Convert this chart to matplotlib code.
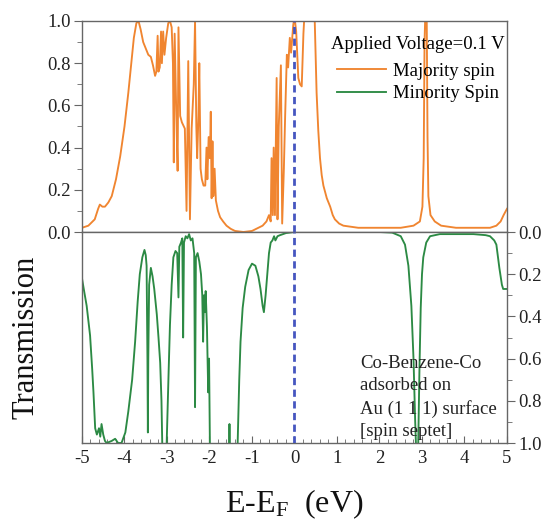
import matplotlib
matplotlib.use('Agg')
import matplotlib.pyplot as plt
from matplotlib.ticker import MultipleLocator, FixedLocator

plt.rcParams['font.family'] = ['Liberation Serif', 'DejaVu Serif']
plt.rcParams['mathtext.fontset'] = 'custom'
plt.rcParams['mathtext.rm'] = 'Liberation Serif'
plt.rcParams['mathtext.it'] = 'Liberation Serif:italic'

# ---------------- data ----------------
maj_E = [-5.00, -4.85, -4.70, -4.62, -4.58, -4.52, -4.46, -4.38, -4.30, -4.20,
         -4.10, -4.00, -3.91, -3.84, -3.78, -3.72, -3.67, -3.62, -3.56, -3.50,
         -3.44, -3.38, -3.33, -3.28, -3.25, -3.22, -3.20, -3.17, -3.14, -3.12,
         -3.09, -3.06, -3.02, -2.97, -2.93, -2.89, -2.86, -2.84, -2.82, -2.78,
         -2.75, -2.73, -2.69, -2.65, -2.58, -2.54, -2.50, -2.46, -2.42, -2.37,
         -2.34, -2.31, -2.29, -2.26, -2.24, -2.21, -2.18, -2.14, -2.10, -2.07,
         -2.05, -2.02, -1.99, -1.97, -1.95, -1.93, -1.91, -1.88, -1.85, -1.80,
         -1.75, -1.68, -1.60, -1.50, -1.40, -1.20, -1.00, -0.85, -0.75, -0.66,
         -0.60, -0.56, -0.54, -0.51, -0.49, -0.46, -0.42, -0.40, -0.37, -0.32,
         -0.29, -0.25, -0.22, -0.18, -0.15, -0.11, -0.08, -0.03, 0.00, 0.04,
         0.09, 0.13, 0.17, 0.21, 0.24, 0.47, 0.52, 0.56, 0.60, 0.64,
         0.68, 0.72, 0.76, 0.80, 0.84, 0.90, 0.95, 1.05, 1.15, 1.50,
         2.00, 2.50, 2.80, 2.95, 3.01, 3.04, 3.06, 3.08, 3.11, 3.13,
         3.15, 3.20, 3.30, 3.45, 3.80, 4.20, 4.60, 4.75, 4.85, 4.92, 5.00]
maj_T = [0.02, 0.03, 0.06, 0.11, 0.13, 0.12, 0.12, 0.14, 0.17, 0.25,
         0.36, 0.50, 0.66, 0.80, 0.92, 0.99, 1.00, 0.96, 0.90, 0.87,
         0.84, 0.83, 0.79, 0.74, 0.76, 0.93, 0.76, 0.78, 0.95, 0.80,
         0.95, 0.84, 0.92, 0.99, 1.00, 0.97, 0.80, 0.33, 0.94, 0.55,
         0.29, 0.97, 0.55, 0.52, 0.49, 0.10, 0.81, 0.06, 0.49, 0.70,
         1.00, 0.50, 0.35, 0.55, 0.80, 0.30, 0.25, 0.22, 0.22, 0.40,
         0.25, 0.45, 0.35, 0.57, 0.16, 0.43, 0.17, 0.30, 0.15, 0.10,
         0.07, 0.05, 0.03, 0.015, 0.005, 0.0, 0.005, 0.02, 0.03, 0.05,
         0.08, 0.05, 0.35, 0.08, 0.40, 0.08, 0.73, 0.06, 0.50, 0.79,
         0.04, 0.30, 0.55, 0.84, 0.78, 0.92, 0.85, 0.98, 1.02, 0.95,
         0.73, 0.70, 0.69, 0.94, 1.05, 1.05, 0.66, 0.48, 0.35, 0.27,
         0.22, 0.19, 0.16, 0.14, 0.12, 0.08, 0.06, 0.04, 0.03, 0.02,
         0.02, 0.02, 0.03, 0.05, 0.12, 0.35, 0.90, 1.05, 1.05, 0.45,
         0.17, 0.08, 0.05, 0.03, 0.02, 0.02, 0.02, 0.03, 0.05, 0.08, 0.11]

min_E = [-5.00, -4.95, -4.89, -4.81, -4.76, -4.73, -4.69, -4.65, -4.60, -4.57,
         -4.54, -4.50, -4.46, -4.42, -4.30, -4.22, -4.15, -4.07, -3.98, -3.91,
         -3.82, -3.75, -3.69, -3.64, -3.58, -3.53, -3.50, -3.48, -3.46, -3.45,
         -3.44, -3.42, -3.38, -3.34, -3.30, -3.24, -3.20, -3.16, -3.13, -3.11,
         -3.01, -2.96, -2.93, -2.89, -2.85, -2.80, -2.76, -2.73, -2.71, -2.67,
         -2.64, -2.62, -2.60, -2.56, -2.52, -2.48, -2.44, -2.40, -2.36, -2.34,
         -2.32, -2.28, -2.24, -2.20, -2.17, -2.15, -2.13, -2.11, -2.09, -2.06,
         -2.03, -2.01, -1.99, -1.60, -1.54, -1.53, -1.52, -1.34, -1.30, -1.27,
         -1.22, -1.16, -1.08, -1.00, -0.92, -0.85, -0.80, -0.75, -0.72, -0.68,
         -0.64, -0.60, -0.56, -0.52, -0.48, -0.45, -0.40, -0.34, -0.20, 0.00,
         1.00, 2.00, 2.30, 2.50, 2.60, 2.68, 2.75, 2.80, 2.84, 2.86,
         2.91, 2.94, 2.97, 3.00, 3.03, 3.10, 3.19, 3.42, 4.21, 4.50,
         4.60, 4.70, 4.75, 4.82, 4.88, 4.91, 5.00]
min_T = [0.22, 0.28, 0.35, 0.49, 0.65, 0.76, 0.93, 0.96, 0.93, 0.97,
         0.91, 0.96, 0.99, 1.00, 0.99, 0.98, 1.00, 1.00, 0.95, 0.85,
         0.70, 0.52, 0.33, 0.20, 0.12, 0.085, 0.11, 0.16, 0.60, 0.95,
         0.60, 0.25, 0.17, 0.21, 0.27, 0.39, 0.50, 0.62, 0.80, 1.02,
         1.02, 0.65, 0.44, 0.25, 0.12, 0.09, 0.10, 0.31, 0.07, 0.05,
         0.03, 0.50, 0.05, 0.02, 0.03, 0.01, 0.04, 0.03, 0.10, 0.83,
         0.12, 0.10, 0.14, 0.20, 0.30, 0.52, 0.30, 0.38, 0.28, 0.45,
         0.76, 0.60, 1.02, 1.02, 1.02, 0.91, 1.02, 1.02, 0.70, 0.52,
         0.36, 0.26, 0.18, 0.15, 0.16, 0.21, 0.27, 0.35, 0.38, 0.30,
         0.20, 0.10, 0.05, 0.04, 0.02, 0.04, 0.02, 0.015, 0.005, 0.0,
         0.0, 0.0, 0.003, 0.02, 0.06, 0.16, 0.35, 0.60, 0.90, 1.02,
         1.02, 0.65, 0.36, 0.20, 0.12, 0.05, 0.02, 0.01, 0.01, 0.015,
         0.02, 0.04, 0.06, 0.17, 0.25, 0.27, 0.27]

x_ticks = [-5, -4, -3, -2, -1, 0, 1, 2, 3, 4, 5]
y_ticks = [0.0, 0.2, 0.4, 0.6, 0.8, 1.0]
fermi_E = 0.0
legend_title = 'Applied Voltage=0.1 V'
series_labels = ['Majority spin', 'Minority Spin']
note = 'Co-Benzene-Co\nadsorbed on\nAu (1 1 1) surface\n[spin septet]'

# ---------------- styling ----------------
c_maj = '#F08530'
c_min = '#2C8A44'
c_fermi = '#4656C0'
spine_c = '#666666'
fs = 13.5

fig = plt.figure(figsize=(5.43, 5.21), dpi=100)
ax1 = fig.add_axes([0.151, 0.5547, 0.7827, 0.405])
ax2 = fig.add_axes([0.151, 0.1497, 0.7827, 0.405], sharex=ax1)

for ax in (ax1, ax2):
    for s in ax.spines.values():
        s.set_color(spine_c)
        s.set_linewidth(1.0)

l1, = ax1.plot(maj_E, maj_T, color=c_maj, lw=1.35, label=series_labels[0])
l2, = ax2.plot(min_E, min_T, color=c_min, lw=1.35, label=series_labels[1])
for ax in (ax1, ax2):
    ax.axvline(fermi_E, color=c_fermi, lw=2.0, ls=(0, (2.6, 1.6)), zorder=3)

ax1.set_xlim(-5, 5)
ax1.set_ylim(0, 1)
ax2.set_ylim(1, 0)

# top axes ticks
ax1.yaxis.set_major_locator(FixedLocator(y_ticks))
ax1.yaxis.set_minor_locator(MultipleLocator(0.1))
ax1.tick_params(axis='y', which='both', direction='out', left=True, right=False,
                labelsize=fs, colors='#222222', pad=2)
ax1.tick_params(axis='y', which='major', length=6, color=spine_c)
ax1.tick_params(axis='y', which='minor', length=3.5, color=spine_c)
ax1.yaxis.set_major_formatter(plt.FuncFormatter(lambda v, p: f'{v:.1f}'))
ax1.tick_params(axis='x', which='both', bottom=False, top=False, labelbottom=False)

# bottom axes ticks
ax2.yaxis.tick_right()
ax2.yaxis.set_major_locator(FixedLocator(y_ticks))
ax2.yaxis.set_minor_locator(MultipleLocator(0.1))
ax2.yaxis.set_major_formatter(plt.FuncFormatter(lambda v, p: f'{v:.1f}'))
ax2.tick_params(axis='y', which='both', direction='out', left=False, right=True,
                labelleft=False, labelright=True, labelsize=fs, colors='#222222', pad=2)
ax2.tick_params(axis='y', which='major', length=6, color=spine_c)
ax2.tick_params(axis='y', which='minor', length=3.5, color=spine_c)

ax2.xaxis.set_major_locator(FixedLocator(x_ticks))
ax2.xaxis.set_minor_locator(MultipleLocator(0.2))
ax2.tick_params(axis='x', which='both', direction='in', top=False, bottom=True,
                labelsize=fs, colors='#222222', pad=5)
ax2.tick_params(axis='x', which='major', length=5, color=spine_c)
ax2.tick_params(axis='x', which='minor', length=3, color=spine_c)
ax2.xaxis.set_major_formatter(plt.FuncFormatter(lambda v, p: f'{v:g}'))

ax2.set_xlabel(r'E-E$_{\mathrm{F}}$  (eV)', fontsize=23, labelpad=15, color='#111111')
ax2.set_ylabel('Transmission', fontsize=22, labelpad=30, color='#111111')

leg = ax1.legend(handles=[l1, l2], title=legend_title, loc='upper right',
                 bbox_to_anchor=(0.995, 0.93), frameon=False, fontsize=fs,
                 title_fontsize=fs, handlelength=2.6, handletextpad=0.4,
                 labelspacing=0.3, borderpad=0, borderaxespad=0)
leg._legend_box.sep = 7

ax2.text(0.654, 0.014, note, transform=ax2.transAxes, fontsize=fs,
         ha='left', va='bottom', linespacing=1.4, color='#222222')

fig.savefig('out.png', dpi=100)
